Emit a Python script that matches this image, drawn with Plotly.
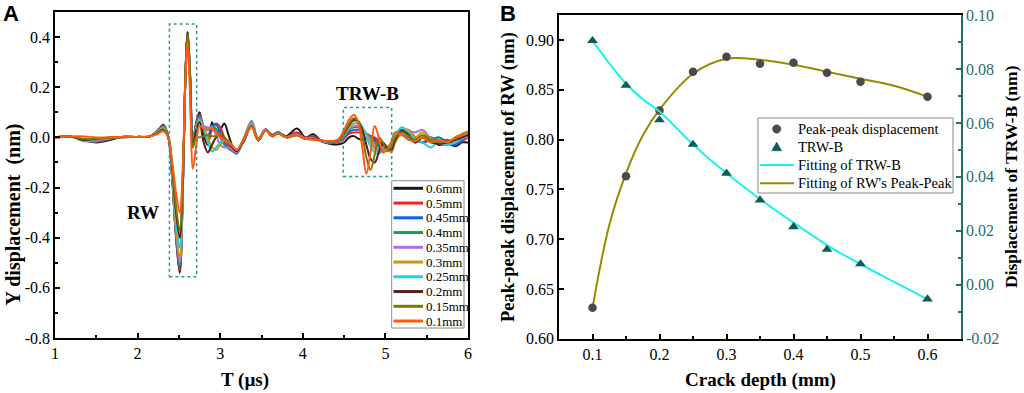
import plotly.graph_objects as go

W, H = 1024, 393

# ---------------- Panel A data: waveforms ----------------
t_us = [1.0, 1.2, 1.35, 1.5, 1.65, 1.8, 2.0, 2.15, 2.25, 2.31,
        2.37, 2.42, 2.46, 2.51, 2.55, 2.58, 2.605, 2.635, 2.67, 2.71,
        2.75, 2.8, 2.85, 2.9, 2.95, 3.0, 3.05, 3.1, 3.15, 3.2,
        3.28, 3.38, 3.46, 3.55, 3.63, 3.7, 3.8, 3.93, 4.03, 4.13,
        4.22, 4.32, 4.42, 4.5, 4.56, 4.62, 4.67, 4.72, 4.77, 4.82,
        4.87, 4.92, 4.97, 5.02, 5.07, 5.12, 5.2, 5.28, 5.36, 5.45,
        5.55, 5.65, 5.75, 5.85, 5.93, 6.0]

y_06 = [0, 0.002, -0.01, -0.02, -0.012, 0.0, 0.002, 0.004, 0.03, 0.05,
        0.005, -0.17, -0.38, -0.54, -0.175, 0.255, 0.42, 0.25, -0.01, 0.06,
        0.10, 0.01, -0.03, 0.06, 0.02, 0.03, 0.055, 0.01, -0.035, -0.05,
        -0.02, 0.045, -0.005, 0.03, 0.01, 0.02, 0.005, 0.035, 0.0, 0.013,
        -0.015, -0.025, -0.028, -0.02, 0.0, 0.005, -0.005, -0.01, -0.005, 0.0,
        -0.005, -0.015, -0.03, -0.04, -0.045, -0.01, 0.03, 0.02, 0.0, -0.02,
        -0.01, -0.03, -0.025, -0.035, -0.02, -0.02]
y_05 = [0, 0.002, -0.012, -0.018, -0.008, 0.001, 0.002, 0.004, 0.028, 0.047,
        0.005, -0.167, -0.373, -0.53, -0.172, 0.255, 0.42, 0.25, -0.015, 0.055,
        0.09, 0.03, -0.02, 0.03, 0.055, 0.04, 0.0, -0.03, -0.045, -0.055,
        -0.015, 0.05, -0.008, 0.032, 0.008, 0.02, 0.003, 0.02, -0.002, 0.005,
        -0.015, -0.023, -0.02, -0.005, 0.015, 0.02, 0.02, 0.015, 0.01, 0.005,
        0.0, -0.02, -0.04, -0.05, -0.045, 0.0, 0.025, 0.03, 0.0, -0.02,
        0.0, -0.015, -0.01, -0.025, -0.015, 0.0]
y_045 = [0, 0.002, -0.013, -0.016, -0.006, 0.001, 0.002, 0.004, 0.027, 0.045,
         0.004, -0.164, -0.366, -0.52, -0.169, 0.255, 0.42, 0.25, -0.02, 0.05,
         0.085, 0.04, 0.0, 0.045, 0.05, 0.02, -0.02, -0.04, -0.055, -0.065,
         -0.015, 0.055, -0.01, 0.032, 0.005, 0.02, 0.002, 0.015, -0.003, 0.0,
         -0.015, -0.022, -0.018, 0.0, 0.022, 0.03, 0.03, 0.025, 0.015, 0.005,
         -0.01, -0.03, -0.045, -0.05, -0.035, 0.01, 0.03, 0.01, -0.01, -0.02,
         -0.01, 0.0, -0.02, -0.03, -0.01, 0.005]
y_04 = [0, 0.002, -0.014, -0.014, -0.005, 0.002, 0.002, 0.004, 0.026, 0.043,
        0.004, -0.161, -0.359, -0.51, -0.166, 0.255, 0.42, 0.25, -0.02, 0.048,
        0.08, 0.045, 0.03, 0.045, 0.035, 0.0, -0.03, -0.045, -0.055, -0.06,
        -0.01, 0.065, -0.005, 0.03, 0.005, 0.018, 0.0, 0.012, -0.004, -0.003,
        -0.014, -0.02, -0.017, 0.005, 0.03, 0.04, 0.04, 0.03, 0.015, 0.0,
        -0.02, -0.04, -0.05, -0.045, -0.02, 0.02, 0.01, 0.0, -0.02, 0.0,
        0.0, -0.01, -0.02, 0.0, 0.01, 0.02]
y_035 = [0, 0.003, -0.015, -0.012, -0.004, 0.002, 0.002, 0.004, 0.025, 0.04,
         0.003, -0.158, -0.352, -0.50, -0.163, 0.255, 0.42, 0.25, -0.025, 0.045,
         0.075, 0.045, 0.04, 0.04, 0.01, -0.03, -0.04, -0.04, -0.05, -0.06,
         -0.008, 0.062, -0.01, 0.03, 0.005, 0.018, 0.0, 0.012, -0.005, -0.005,
         -0.014, -0.02, -0.016, 0.008, 0.035, 0.045, 0.045, 0.035, 0.015, -0.01,
         -0.035, -0.05, -0.055, -0.04, -0.03, 0.0, 0.01, 0.025, 0.02, 0.03,
         -0.005, -0.025, -0.03, -0.02, -0.005, 0.01]
y_03 = [0, 0.003, -0.014, -0.01, -0.003, 0.002, 0.002, 0.004, 0.023, 0.037,
        0.003, -0.151, -0.338, -0.48, -0.156, 0.255, 0.42, 0.245, -0.025, 0.04,
        0.07, 0.04, 0.0, -0.04, -0.05, -0.03, -0.01, -0.015, -0.035, -0.055,
        -0.01, 0.055, -0.012, 0.028, 0.004, 0.016, 0.0, 0.01, -0.005, -0.005,
        -0.013, -0.018, -0.015, 0.01, 0.04, 0.055, 0.055, 0.04, 0.01, -0.02,
        -0.045, -0.06, -0.055, -0.045, -0.06, -0.02, 0.02, 0.03, 0.0, 0.02,
        -0.01, -0.02, -0.025, 0.0, 0.015, 0.025]
y_025 = [0, 0.003, -0.012, -0.008, -0.002, 0.002, 0.002, 0.004, 0.021, 0.034,
         0.002, -0.139, -0.31, -0.44, -0.143, 0.255, 0.42, 0.24, -0.03, 0.035,
         0.065, 0.035, -0.02, -0.055, -0.04, -0.02, -0.01, -0.02, -0.035, -0.055,
         -0.012, 0.05, -0.01, 0.03, 0.006, 0.018, 0.002, 0.01, -0.005, -0.006,
         -0.013, -0.018, -0.014, 0.012, 0.045, 0.065, 0.06, 0.04, 0.0, -0.035,
         -0.06, -0.065, -0.04, -0.045, -0.03, 0.01, 0.04, 0.02, -0.01, -0.02,
         -0.04, -0.015, -0.03, -0.02, -0.005, 0.005]
y_02 = [0, 0.003, -0.01, -0.006, -0.001, 0.002, 0.002, 0.004, 0.019, 0.031,
        0.002, -0.126, -0.282, -0.40, -0.13, 0.255, 0.42, 0.235, -0.03, 0.03,
        0.06, -0.02, -0.06, -0.03, 0.0, 0.01, 0.0, -0.02, -0.04, -0.055,
        -0.012, 0.045, -0.012, 0.028, 0.005, 0.016, 0.0, 0.008, -0.006, -0.007,
        -0.012, -0.016, -0.013, 0.015, 0.05, 0.07, 0.065, 0.03, -0.03, -0.085,
        -0.1, -0.06, -0.02, -0.04, -0.05, -0.01, 0.025, 0.01, -0.02, 0.0,
        -0.02, -0.025, -0.02, -0.01, 0.0, 0.01]
y_015 = [0, 0.004, -0.006, -0.004, 0.0, 0.002, 0.002, 0.004, 0.017, 0.028,
         0.001, -0.117, -0.26, -0.37, -0.12, 0.25, 0.41, 0.22, -0.04, 0.0,
         0.0, 0.005, 0.01, 0.005, 0.005, 0.01, 0.0, -0.02, -0.035, -0.05,
         -0.01, 0.04, -0.012, 0.026, 0.004, 0.015, 0.0, 0.008, -0.006, -0.008,
         -0.012, -0.015, -0.012, 0.02, 0.055, 0.076, 0.065, 0.01, -0.08, -0.13,
         -0.07, 0.0, -0.02, -0.055, -0.04, 0.0, 0.02, 0.005, -0.01, 0.01,
         -0.01, -0.02, -0.015, -0.005, 0.01, 0.02]
y_01 = [0, 0.004, 0.004, 0.0, 0.0, 0.002, 0.002, 0.004, 0.015, 0.024,
        0.0, -0.1, -0.21, -0.30, -0.09, 0.24, 0.38, 0.17, -0.125, -0.03,
        0.045, 0.035, 0.03, 0.035, 0.02, 0.0, -0.01, -0.02, -0.035, -0.05,
        -0.012, 0.042, -0.01, 0.03, 0.005, 0.016, 0.0, 0.01, -0.005, -0.008,
        -0.012, -0.015, -0.01, 0.03, 0.07, 0.09, 0.06, -0.04, -0.145, -0.06,
        0.045, 0.0, -0.06, -0.05, -0.02, 0.02, 0.01, -0.01, -0.015, 0.0,
        -0.02, -0.01, -0.02, 0.0, 0.01, 0.02]

wave_labels = ["0.6mm", "0.5mm", "0.45mm", "0.4mm", "0.35mm",
               "0.3mm", "0.25mm", "0.2mm", "0.15mm", "0.1mm"]
wave_series = [y_06, y_05, y_045, y_04, y_035, y_03, y_025, y_02, y_015, y_01]
wave_colors = ["#1a1a1a", "#ff1f1f", "#1060e0", "#1f9c4c", "#b06ee6",
               "#cc9a08", "#22d2da", "#5a1c1c", "#7c7800", "#ff5a12"]

a_yticks = [-0.8, -0.6, -0.4, -0.2, 0.0, 0.2, 0.4]
a_xticks = [1, 2, 3, 4, 5, 6]

# ---------------- Panel B data ----------------
depth = [0.1, 0.15, 0.2, 0.25, 0.3, 0.35, 0.4, 0.45, 0.5, 0.6]
rw_pp = [0.631, 0.763, 0.829, 0.868, 0.883, 0.876, 0.877, 0.867, 0.858, 0.843]
trw_b = [0.0905, 0.0739, 0.0611, 0.0520, 0.0413, 0.0314, 0.0215, 0.0131, 0.0077, -0.0053]

fit_x = [0.1, 0.125, 0.15, 0.175, 0.2, 0.25, 0.3, 0.35, 0.4, 0.45, 0.5, 0.55, 0.6]
rw_fit = [0.631, 0.714, 0.766, 0.804, 0.830, 0.866, 0.881, 0.880, 0.875, 0.868, 0.861, 0.854, 0.843]
trw_fit = [0.0905, 0.0821, 0.0745, 0.0688, 0.0642, 0.0520, 0.0413, 0.0318, 0.0230, 0.0147, 0.0076, 0.0011, -0.0053]

b_xticks = [0.1, 0.2, 0.3, 0.4, 0.5, 0.6]
b_yticks = [0.60, 0.65, 0.70, 0.75, 0.80, 0.85, 0.90]
b_y2ticks = [-0.02, 0.0, 0.02, 0.04, 0.06, 0.08, 0.10]

b_names = ["Peak-peak displacement", "TRW-B", "Fitting of TRW-B", "Fitting of RW's Peak-Peak"]

SERIF = "Liberation Serif"
TEAL = "#1f6f6f"
C_CIRCLE = "#4a4a4a"
C_TRI = "#0f5a5a"
C_CYAN = "#1ef0f0"
C_OLIVE = "#9a8a00"


def px(x):
    return x / W


def py(y):
    return 1 - y / H


fig = go.Figure()

for lab, ys, col in zip(wave_labels, wave_series, wave_colors):
    fig.add_trace(go.Scatter(x=t_us, y=ys, mode="lines", name=lab,
                             line=dict(color=col, width=2, shape="spline", smoothing=1.0),
                             xaxis="x", yaxis="y", showlegend=False))

# Panel B traces
fig.add_trace(go.Scatter(x=fit_x, y=trw_fit, mode="lines", name=b_names[2],
                         line=dict(color=C_CYAN, width=2, shape="spline"),
                         xaxis="x2", yaxis="y3", showlegend=False))
fig.add_trace(go.Scatter(x=fit_x, y=rw_fit, mode="lines", name=b_names[3],
                         line=dict(color=C_OLIVE, width=2, shape="spline"),
                         xaxis="x2", yaxis="y2", showlegend=False))
fig.add_trace(go.Scatter(x=depth, y=rw_pp, mode="markers", name=b_names[0],
                         marker=dict(symbol="circle", size=8.5, color=C_CIRCLE),
                         xaxis="x2", yaxis="y2", showlegend=False))
fig.add_trace(go.Scatter(x=depth, y=trw_b, mode="markers", name=b_names[1],
                         marker=dict(symbol="triangle-up", size=9.5, color=C_TRI),
                         xaxis="x2", yaxis="y3", showlegend=False))

axis_common = dict(showline=True, linecolor="black", linewidth=1.5, ticks="inside",
                   ticklen=5, tickwidth=1.5, tickcolor="black", showgrid=False,
                   zeroline=False, tickfont=dict(family=SERIF, size=16, color="black"))

fig.update_layout(
    width=W, height=H, margin=dict(l=0, r=0, t=0, b=0, pad=0, autoexpand=False),
    paper_bgcolor="white", plot_bgcolor="white",
    showlegend=False,
    xaxis=dict(domain=[px(55), px(468)], range=[1, 6], anchor="y", mirror=True,
               tickmode="array", tickvals=a_xticks, ticktext=[str(v) for v in a_xticks],
               minor=dict(ticks="inside", ticklen=3, tickmode="linear", tick0=1, dtick=0.5,
                          tickcolor="black"),
               **axis_common),
    yaxis=dict(domain=[py(338), py(12)], range=[-0.8, 0.5], anchor="x", mirror=True,
               tickmode="array", tickvals=a_yticks, ticktext=[f"{v:.1f}" for v in a_yticks],
               minor=dict(ticks="inside", ticklen=3, tickmode="linear", tick0=0, dtick=0.1,
                          tickcolor="black"),
               **axis_common),
    xaxis2=dict(domain=[px(559), px(961)], range=[0.05, 0.65], anchor="y2", mirror=True,
                tickmode="array", tickvals=b_xticks, ticktext=[f"{v:.1f}" for v in b_xticks],
                minor=dict(ticks="inside", ticklen=3, tickmode="linear", tick0=0.05, dtick=0.05,
                           tickcolor="black"),
                **axis_common),
    yaxis2=dict(domain=[py(338.7), py(15)], range=[0.6, 0.925], anchor="x2", mirror=False,
                tickmode="array", tickvals=b_yticks, ticktext=[f"{v:.2f}" for v in b_yticks],
                **axis_common),
    yaxis3=dict(overlaying="y2", side="right", anchor="x2", range=[-0.02, 0.10],
                showline=True, linecolor=TEAL, linewidth=1.5, ticks="inside", ticklen=5,
                tickwidth=1.5, tickcolor=TEAL, showgrid=False, zeroline=False,
                tickmode="array", tickvals=b_y2ticks, ticktext=[f"{v:.2f}" for v in b_y2ticks],
                minor=dict(ticks="inside", ticklen=3, tickmode="linear", tick0=0, dtick=0.01,
                           tickcolor=TEAL),
                tickfont=dict(family=SERIF, size=16, color=TEAL)),
)

# dotted highlight boxes
box_style = dict(color="#2a9a9a", width=1.5, dash="dot")
fig.add_shape(type="rect", xref="x", yref="y", x0=2.385, x1=2.715, y0=-0.556, y1=0.452,
              line=box_style)
fig.add_shape(type="rect", xref="x", yref="y", x0=4.49, x1=5.076, y0=-0.156, y1=0.119,
              line=box_style)

# ---- legend of panel A (drawn as a key box) ----
fig.add_shape(type="rect", xref="paper", yref="paper", x0=px(391.7), x1=px(464),
              y0=py(328), y1=py(180.7), line=dict(color="#8a8a8a", width=1),
              fillcolor="white", layer="above")
for k, (lab, col) in enumerate(zip(wave_labels, wave_colors)):
    yy = 188.3 + k * 14.75
    fig.add_shape(type="line", xref="paper", yref="paper", x0=px(393.5), x1=px(423),
                  y0=py(yy), y1=py(yy), line=dict(color=col, width=3), layer="above")
    fig.add_annotation(x=px(424), y=py(yy), xref="paper", yref="paper", text=lab,
                       showarrow=False, xanchor="left", yanchor="middle",
                       font=dict(family=SERIF, size=13, color="black"))

# ---- legend of panel B (drawn as a key box) ----
fig.add_shape(type="rect", xref="paper", yref="paper", x0=px(758), x1=px(953),
              y0=py(193), y1=py(118), line=dict(color="#8a8a8a", width=1),
              fillcolor="white", layer="above")
rows_b = [129, 147, 165, 183.3]
cx = 776.7
fig.add_shape(type="circle", xref="paper", yref="paper",
              x0=px(cx - 4.2), x1=px(cx + 4.2), y0=py(rows_b[0] + 4.2), y1=py(rows_b[0] - 4.2),
              line=dict(color=C_CIRCLE, width=0.5), fillcolor=C_CIRCLE, layer="above")
tri = rows_b[1]
fig.add_shape(type="path", xref="paper", yref="paper",
              path=(f"M {px(cx - 5)} {py(tri + 3.8)} L {px(cx + 5)} {py(tri + 3.8)} "
                    f"L {px(cx)} {py(tri - 5)} Z"),
              line=dict(color=C_TRI, width=0.5), fillcolor=C_TRI, layer="above")
for yy, col in ((rows_b[2], C_CYAN), (rows_b[3], C_OLIVE)):
    fig.add_shape(type="line", xref="paper", yref="paper", x0=px(760), x1=px(794),
                  y0=py(yy), y1=py(yy), line=dict(color=col, width=2), layer="above")
for yy, name in zip(rows_b, b_names):
    fig.add_annotation(x=px(796), y=py(yy), xref="paper", yref="paper", text=name,
                       showarrow=False, xanchor="left", yanchor="middle",
                       font=dict(family=SERIF, size=14.5, color="black"))


def label(x, y, text, font, angle=0, ref="paper"):
    fig.add_annotation(x=x, y=y, xref=ref, yref=ref, text=text, textangle=angle,
                       showarrow=False, xanchor="center", yanchor="middle", font=font)


ann_bold = dict(family=SERIF, size=19, color="black")
fig.add_annotation(x=2.07, y=-0.30, xref="x", yref="y", text="<b>RW</b>", showarrow=False,
                   xanchor="center", yanchor="middle", font=ann_bold)
fig.add_annotation(x=4.78, y=0.175, xref="x", yref="y", text="<b>TRW-B</b>", showarrow=False,
                   xanchor="center", yanchor="middle", font=ann_bold)

title_font = dict(family=SERIF, size=19, color="black")
label(px(245), py(380), "<b>T (µs)</b>", title_font)
label(px(13.5), py(215), "<b>Y displacement  (nm)</b>",
      dict(family=SERIF, size=20, color="black"), angle=-90)
label(px(760), py(380), "<b>Crack depth (mm)</b>", title_font)
label(px(508), py(177), "<b>Peak-peak displacement of RW (nm)</b>",
      dict(family=SERIF, size=18.5, color="black"), angle=-90)
label(px(1011), py(177), "<b>Displacement of TRW-B (nm)</b>",
      dict(family=SERIF, size=17.5, color="black"), angle=-90)

letter_font = dict(family="Liberation Sans", size=22, color="black")
label(px(11), py(13), "<b>A</b>", letter_font)
label(px(508), py(13), "<b>B</b>", letter_font)

fig.write_html("out.html", config={"displayModeBar": False},
               post_script="document.body.style.margin='0px';"
                           "document.documentElement.style.margin='0px';"
                           "document.body.style.overflow='hidden';")
